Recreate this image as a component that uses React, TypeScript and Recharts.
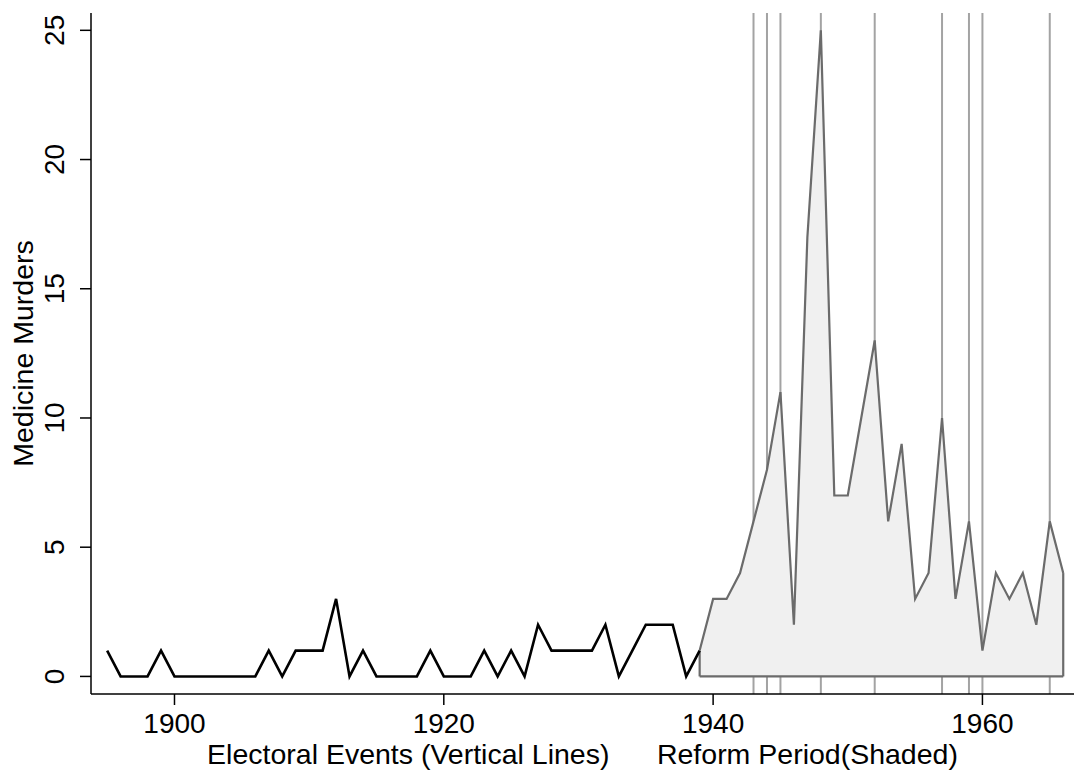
import React from "react";
import {
  ComposedChart,
  Line,
  Area,
  XAxis,
  YAxis,
  ReferenceLine,
} from "recharts";

// Years on the x axis and the count of medicine murders for each one
const years = [
  1895, 1896, 1897, 1898, 1899, 1900, 1901, 1902, 1903, 1904, 1905, 1906,
  1907, 1908, 1909, 1910, 1911, 1912, 1913, 1914, 1915, 1916, 1917, 1918,
  1919, 1920, 1921, 1922, 1923, 1924, 1925, 1926, 1927, 1928, 1929, 1930,
  1931, 1932, 1933, 1934, 1935, 1936, 1937, 1938, 1939, 1940, 1941, 1942,
  1943, 1944, 1945, 1946, 1947, 1948, 1949, 1950, 1951, 1952, 1953, 1954,
  1955, 1956, 1957, 1958, 1959, 1960, 1961, 1962, 1963, 1964, 1965, 1966,
];
const murders = [
  1, 0, 0, 0, 1, 0, 0, 0, 0, 0, 0, 0,
  1, 0, 1, 1, 1, 3, 0, 1, 0, 0, 0, 0,
  1, 0, 0, 0, 1, 0, 1, 0, 2, 1, 1, 1,
  1, 2, 0, 1, 2, 2, 2, 0, 1, 3, 3, 4,
  6, 8, 11, 2, 17, 25, 7, 7, 10, 13, 6, 9,
  3, 4, 10, 3, 6, 1, 4, 3, 4, 2, 6, 4,
];

// reform period (shaded) and electoral events (vertical lines)
const reformStart = 1939;
const reformEnd = 1966;
const electoralEvents = [1943, 1944, 1945, 1948, 1952, 1957, 1959, 1960, 1965];

const xTicks = [1900, 1920, 1940, 1960];
const yTicks = [0, 5, 10, 15, 20, 25];

const FONT = "'Liberation Sans', Arial, Helvetica, sans-serif";
const FONT_SIZE = 28;
const TITLE_SIZE = 28.5;

const rows = years.map((year, i) => ({
  year,
  pre: year <= reformStart ? murders[i] : null,
  reform: year >= reformStart && year <= reformEnd ? [0, murders[i]] : null,
}));

const startValue = murders[years.indexOf(reformStart)];
const endValue = murders[years.indexOf(reformEnd)];

function YTick(props: any) {
  const { x, y, payload } = props;
  return (
    <text
      x={x}
      y={y}
      transform={`rotate(-90, ${x}, ${y})`}
      textAnchor="middle"
      fontFamily={FONT}
      fontSize={FONT_SIZE}
      fill="#000"
    >
      {payload.value}
    </text>
  );
}

export default function App() {
  return (
    <div style={{ position: "fixed", left: 0, top: 0, background: "#fff" }}>
      <ComposedChart
        width={1074}
        height={773}
        data={rows}
        margin={{ top: 13, right: 0, left: 0, bottom: 0 }}
      >
        <XAxis
          dataKey="year"
          type="number"
          domain={[1893.8, 1966.8]}
          allowDataOverflow
          ticks={xTicks}
          height={79}
          tickSize={11}
          tickMargin={8}
          stroke="#000"
          strokeWidth={1.5}
          tick={{ fontFamily: FONT, fontSize: FONT_SIZE, fill: "#000" }}
          label={{
            value:
              "Electoral Events (Vertical Lines)\u00A0\u00A0\u00A0\u00A0\u00A0\u00A0Reform Period(Shaded)",
            position: "insideBottom",
            offset: 9,
            fontFamily: FONT,
            fontSize: TITLE_SIZE,
            fill: "#000",
          }}
        />
        <YAxis
          type="number"
          domain={[-0.68, 25.67]}
          allowDataOverflow
          ticks={yTicks}
          width={91}
          tickSize={11}
          tickMargin={16}
          stroke="#000"
          strokeWidth={1.5}
          tick={<YTick />}
          label={{
            content: (p: any) => {
              const vb = p.viewBox || { x: 0, y: 13, width: 91, height: 681 };
              const cy = vb.y + vb.height / 2;
              return (
                <text
                  x={33}
                  y={cy}
                  transform={`rotate(-90, 33, ${cy})`}
                  textAnchor="middle"
                  fontFamily={FONT}
                  fontSize={TITLE_SIZE}
                  fill="#000"
                >
                  Medicine Murders
                </text>
              );
            },
          }}
        />
        {electoralEvents.map((yr) => (
          <ReferenceLine
            key={yr}
            x={yr}
            stroke="#a3a3a3"
            strokeWidth={2}
            {...({ zIndex: 50 } as any)}
          />
        ))}
        <Area
          dataKey="reform"
          type="linear"
          fill="#f0f0f0"
          fillOpacity={1}
          stroke="#6b6b6b"
          strokeWidth={2.2}
          dot={false}
          activeDot={false}
          connectNulls={false}
          isAnimationActive={false}
        />
        <ReferenceLine
          segment={[
            { x: reformStart, y: 0 },
            { x: reformStart, y: startValue },
          ]}
          stroke="#6b6b6b"
          strokeWidth={2.2}
        />
        <ReferenceLine
          segment={[
            { x: reformEnd, y: 0 },
            { x: reformEnd, y: endValue },
          ]}
          stroke="#6b6b6b"
          strokeWidth={2.2}
        />
        <Line
          dataKey="pre"
          type="linear"
          stroke="#000"
          strokeWidth={2.6}
          dot={false}
          activeDot={false}
          isAnimationActive={false}
        />
      </ComposedChart>
    </div>
  );
}
